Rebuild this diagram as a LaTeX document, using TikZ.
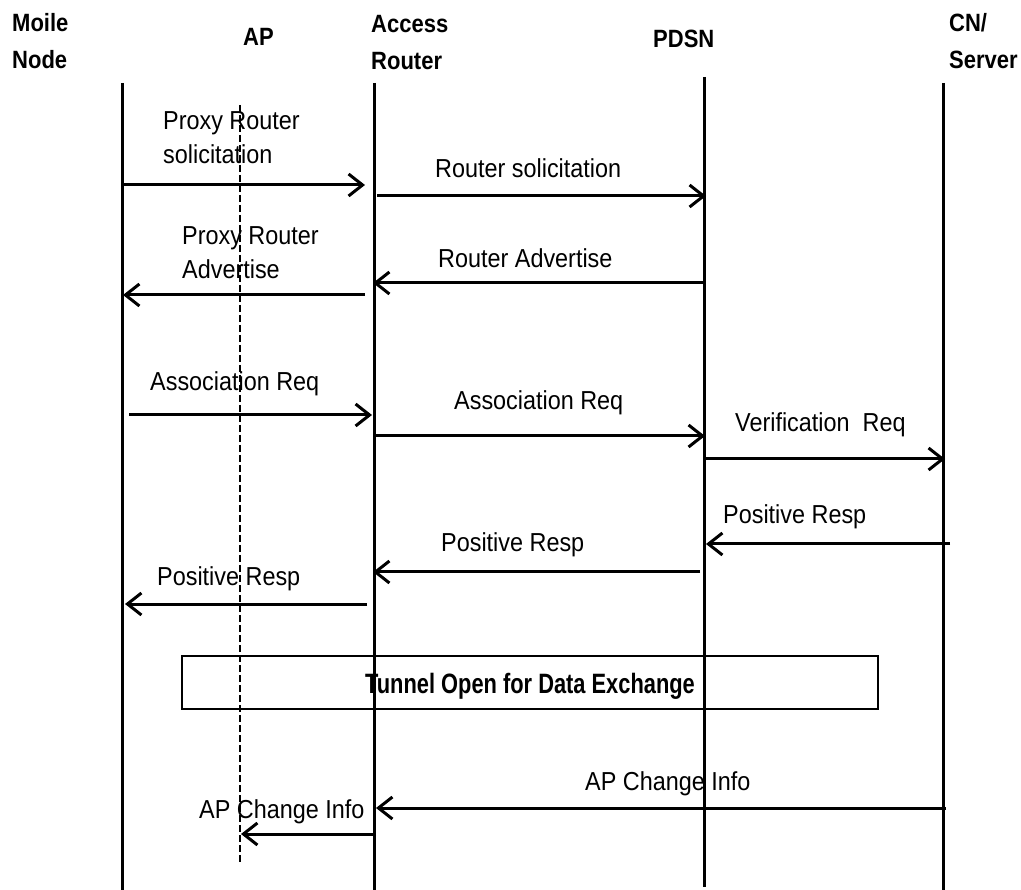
\documentclass[tikz,border=0pt]{standalone}
\usepackage{fontspec}
\setmainfont{Liberation Sans}
\newfontfamily\msgfont[FakeStretch=0.9]{Liberation Sans}
\newfontfamily\headfont[FakeStretch=0.88]{Liberation Sans}
\newfontfamily\tunnelfont[FakeStretch=0.78]{Liberation Sans}
\usetikzlibrary{arrows.meta}
% two stacked lines whose baseline is that of the first line
\newcommand\lblpair[2]{\begin{tabular}[t]{@{}l@{}}#1\\#2\end{tabular}}
\begin{document}
\begin{tikzpicture}[x=1pt,y=-1pt,
  life/.style={line width=3pt},
  apline/.style={line width=2pt, dash pattern=on 7pt off 3pt},
  msg/.style={line width=3pt, -{Straight Barb[length=14pt,width=22pt]}},
  lbl/.style={font=\msgfont\fontsize{26}{34}\selectfont, inner sep=0pt, anchor=base west},
  hdr/.style={font=\headfont\bfseries\fontsize{25}{37}\selectfont, inner sep=0pt, anchor=base west},
]
\useasboundingbox (0,0) rectangle (1021,890);

% headers
\node[hdr] (hMN) at (12,32)  {\lblpair{Moile}{Node}};
\node[hdr] (hAP) at (243,46) {AP};
\node[hdr] (hAR) at (371,33) {\lblpair{Access}{Router}};
\node[hdr] (hPD) at (653,48) {PDSN};
\node[hdr] (hCN) at (949,32) {\lblpair{CN/}{Server}};

% lifelines
\coordinate (mnT) at (122,83);  \coordinate (mnB) at (122,890);
\coordinate (apT) at (240,105); \coordinate (apB) at (240,862);
\coordinate (arT) at (374,83);  \coordinate (arB) at (374,890);
\coordinate (pdT) at (704,77);  \coordinate (pdB) at (704,887);
\coordinate (cnT) at (943,83);  \coordinate (cnB) at (943,890);
\draw[life] (mnT) -- (mnB);
\draw[life] (arT) -- (arB);
\draw[life] (pdT) -- (pdB);
\draw[life] (cnT) -- (cnB);

% tunnel box
\node[draw, line width=2.5pt, minimum width=696pt, minimum height=53pt, inner sep=0pt,
      font=\tunnelfont\bfseries\fontsize{28}{34}\selectfont, text height=24pt, text depth=3pt]
  (tunnel) at (530,682.5) {Tunnel Open for Data Exchange};

% message end points
\coordinate (m1a) at (122,185); \coordinate (m1b) at (365,185);
\coordinate (m2a) at (377,196); \coordinate (m2b) at (706,196);
\coordinate (m3a) at (704,283); \coordinate (m3b) at (373,283);
\coordinate (m4a) at (365,295); \coordinate (m4b) at (123,295);
\coordinate (m5a) at (129,415); \coordinate (m5b) at (372,415);
\coordinate (m6a) at (374,436); \coordinate (m6b) at (705,436);
\coordinate (m7a) at (705,459); \coordinate (m7b) at (945,459);
\coordinate (m8a) at (950,544); \coordinate (m8b) at (706,544);
\coordinate (m9a) at (700,572); \coordinate (m9b) at (373,572);
\coordinate (m10a) at (367,604); \coordinate (m10b) at (125,604);
\coordinate (m11a) at (946,808); \coordinate (m11b) at (376,808);
\coordinate (m12a) at (376,834); \coordinate (m12b) at (241,834);

% messages
\draw[msg] (m1a) -- (m1b);
\draw[msg] (m2a) -- (m2b);
\draw[msg] (m3a) -- (m3b);
\draw[msg] (m4a) -- (m4b);
\draw[msg] (m5a) -- (m5b);
\draw[msg] (m6a) -- (m6b);
\draw[msg] (m7a) -- (m7b);
\draw[msg] (m8a) -- (m8b);
\draw[msg] (m9a) -- (m9b);
\draw[msg] (m10a) -- (m10b);
\draw[msg] (m11a) -- (m11b);
\draw[msg] (m12a) -- (m12b);

% message labels
\node[lbl] (l1)  at (163,130) {\lblpair{Proxy Router}{solicitation}};
\node[lbl] (l2)  at (435,178) {Router solicitation};
\node[lbl] (l3)  at (438,268) {Router Advertise};
\node[lbl] (l4)  at (182,245) {\lblpair{Proxy Router}{Advertise}};
\node[lbl] (l5)  at (150,391) {Association Req};
\node[lbl] (l6)  at (454,410) {Association Req};
\node[lbl] (l7)  at (735,432) {Verification\ \ Req};
\node[lbl] (l8)  at (723,524) {Positive Resp};
\node[lbl] (l9)  at (441,552) {Positive Resp};
\node[lbl] (l10) at (157,585) {Positive Resp};
\node[lbl] (l11) at (585,790) {AP Change Info};
\node[lbl] (l12) at (199,818) {AP Change Info};

% access point lifeline, drawn over the labels
\draw[apline] (apT) -- (apB);
\end{tikzpicture}
\end{document}
